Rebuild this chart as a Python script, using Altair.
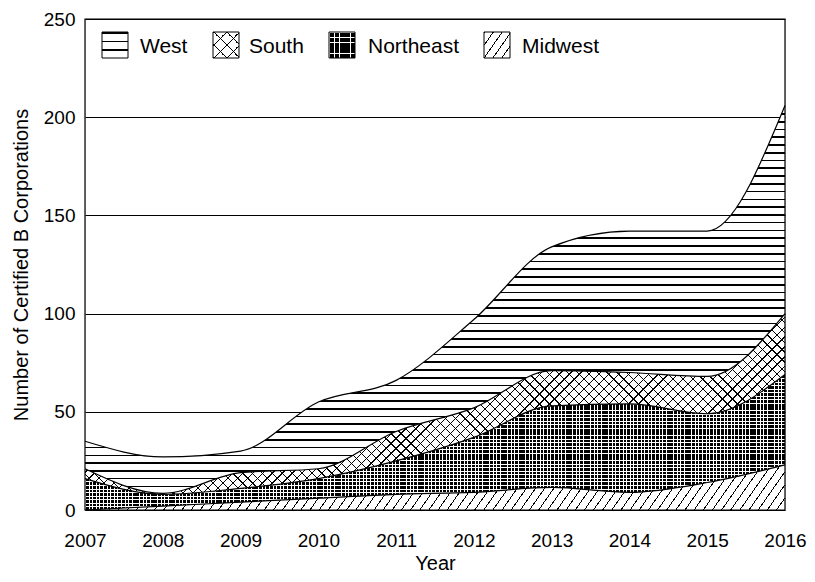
import math
import altair as alt
import pandas as pd

# ---------------- data ----------------
years = [2007, 2008, 2009, 2010, 2011, 2012, 2013, 2014, 2015, 2016]
regions = ["Midwest", "Northeast", "South", "West"]          # stacking order, bottom -> top
midwest = [0, 2, 4, 6, 8, 9, 11.5, 9, 14, 23]
northeast = [16, 6, 7, 10, 17, 28, 41.5, 45, 35, 46]
south = [5, 0.5, 8, 5, 15, 15, 18, 16, 19, 31]
west = [14, 18.5, 11, 34, 26, 45, 63, 72, 74, 106]
legend_order = ["West", "South", "Northeast", "Midwest"]
y_ticks = [0, 50, 100, 150, 200, 250]

series = {"Midwest": midwest, "Northeast": northeast, "South": south, "West": west}

# ---------------- layout / style ----------------
W, H = 700, 491
YMAX = 250
PX = H / YMAX
FONT = "Liberation Sans"
TR = "rgba(255,255,255,0)"

rows = []
for i, yr in enumerate(years):
    for order, r in enumerate(regions):
        rows.append({"year": yr, "region": r, "order": order, "count": series[r][i]})
df = pd.DataFrame(rows)

# bounding box height (px) of every stacked band, used to size hatch gradients
running = [0.0] * len(years)
box_h = {}
for r in regions:
    upper = [a + b for a, b in zip(running, series[r])]
    box_h[r] = (max(upper) - min(running)) * PX
    running = upper


def hatch(bw, bh, nx, ny, period, lw, line, gap):
    norm = math.hypot(nx, ny)
    nx, ny = nx / norm, ny / norm
    pmax = abs(nx) * bw + abs(ny) * bh
    k = pmax / ((bw * nx) ** 2 + (bh * ny) ** 2)
    a, b = k * bw * nx, k * bh * ny
    x1 = 0 if nx >= 0 else 1
    y1 = 0 if ny >= 0 else 1
    n = max(1, round(pmax / period))
    frac = lw / (pmax / n)
    stops = []
    for i in range(n):
        s, e, t = i / n, (i + frac) / n, (i + 1) / n
        stops += [
            alt.GradientStop(offset=round(s, 6), color=line),
            alt.GradientStop(offset=round(e, 6), color=line),
            alt.GradientStop(offset=round(e, 6), color=gap),
            alt.GradientStop(offset=round(t, 6), color=gap),
        ]
    return alt.LinearGradient(gradient="linear", stops=stops,
                              x1=x1, y1=y1, x2=x1 + a, y2=y1 + b)


S55, C55 = math.sin(math.radians(55)), math.cos(math.radians(55))


def fills(region, bw, bh, swatch=False):
    if region == "West":
        p = 8.7 if swatch else 7.8
        return [hatch(bw, bh, 0, 1, p, 1.7, "black", "white")]
    if region == "South":
        p = 9.5 if swatch else 7.0
        return ["white",
                hatch(bw, bh, 1, 1, p, 0.9, "black", TR),
                hatch(bw, bh, 1, -1, p, 0.9, "black", TR)]
    if region == "Northeast":
        p = 5.2 if swatch else 3.6
        return ["black",
                hatch(bw, bh, 0, 1, p, 0.9, "white", TR),
                hatch(bw, bh, 1, 0, p, 0.9, "white", TR)]
    p = 8.0 if swatch else 7.5
    return [hatch(bw, bh, S55, C55, p, 0.9, "black", "white")]


x_enc = alt.X(
    "year:Q",
    scale=alt.Scale(domain=[years[0], years[-1]], nice=False, zero=False),
    axis=alt.Axis(values=years, format="d", title="Year", grid=False, ticks=False,
                  domain=False, labelFlush=False, labelFontSize=19, labelPadding=21,
                  labelFont=FONT, labelColor="black", titleFont=FONT, titleFontSize=20,
                  titleFontWeight="normal", titleColor="black",
                  titleBaseline="alphabetic", titleY=59, titleX=W / 2),
)
y_enc = alt.Y(
    "y1:Q",
    scale=alt.Scale(domain=[0, YMAX], nice=False),
    axis=alt.Axis(values=y_ticks, title="Number of Certified B Corporations",
                  grid=True, gridColor="black", gridOpacity=1, gridWidth=1,
                  ticks=False, domain=False, labelFontSize=19, labelPadding=10,
                  labelFont=FONT, labelColor="black", titleFont=FONT, titleFontSize=20,
                  titleFontWeight="normal", titleColor="black",
                  titleAngle=270, titleBaseline="bottom", titleX=-54, titleY=H / 2,
                  titleAlign="center"),
)

base = alt.Chart(df).transform_stack(
    stack="count", groupby=["year"], as_=["y0", "y1"],
    sort=[alt.SortField("order", order="ascending")],
)

layers = []
for r in regions:
    sub = base.transform_filter(alt.datum.region == r)
    for f in fills(r, W, box_h[r]):
        layers.append(
            sub.mark_area(interpolate="monotone", fill=f, strokeWidth=0)
            .encode(x=x_enc, y=y_enc, y2="y0:Q")
        )
for r in regions:
    sub = base.transform_filter(alt.datum.region == r)
    layers.append(
        sub.mark_line(interpolate="monotone", color="black", strokeWidth=1.2)
        .encode(x=x_enc, y=y_enc)
    )

# ---------------- legend (inside plot, top-left) ----------------
SW = 26
swatch_x = [17, 128, 244, 399]
label_x = [55, 164, 283, 437]
swatch_y = 13
label_y = 33.5
for r, sx, lx in zip(legend_order, swatch_x, label_x):
    one = pd.DataFrame({"label": [r]})
    for f in fills(r, SW, SW, swatch=True):
        layers.append(
            alt.Chart(one).mark_rect(fill=f, strokeWidth=0).encode(
                x=alt.value(sx), x2=alt.value(sx + SW),
                y=alt.value(swatch_y), y2=alt.value(swatch_y + SW))
        )
    layers.append(
        alt.Chart(one).mark_rect(filled=False, stroke="black", strokeWidth=1).encode(
            x=alt.value(sx), x2=alt.value(sx + SW),
            y=alt.value(swatch_y), y2=alt.value(swatch_y + SW))
    )
    layers.append(
        alt.Chart(one).mark_text(align="left", baseline="alphabetic", font=FONT,
                                 fontSize=21, color="black").encode(
            x=alt.value(lx), y=alt.value(label_y), text="label:N")
    )

# frame on top
layers.append(
    alt.Chart(pd.DataFrame({"k": [0]})).mark_rect(filled=False, stroke="black", strokeWidth=1.2)
    .encode(x=alt.value(0), x2=alt.value(W), y=alt.value(0), y2=alt.value(H))
)

chart = alt.layer(*layers).properties(
    width=W, height=H,
    autosize=alt.AutoSizeParams(type="none"),
    padding={"left": 77, "top": 11, "right": 22, "bottom": 64},
).configure_view(stroke="black", strokeWidth=1).configure(background="white")

chart.save("out.html", embed_options={"renderer": "svg", "actions": False})
